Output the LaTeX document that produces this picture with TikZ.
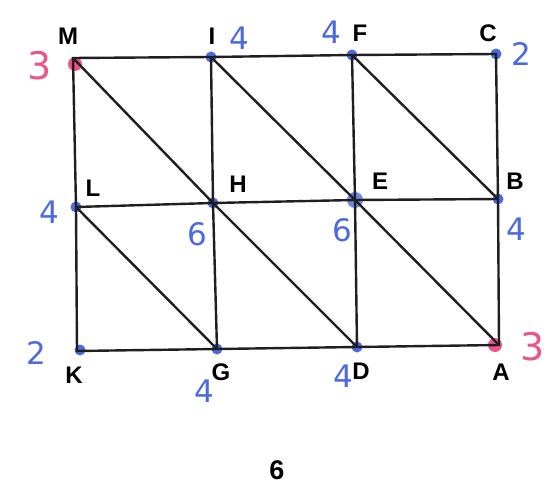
\documentclass[tikz,border=0pt]{standalone}
\usepackage{fontspec}
\setmainfont{Liberation Sans}
\newfontfamily\handfont{DejaVu Sans}
\definecolor{penblue}{RGB}{75,105,225}
\definecolor{penpink}{RGB}{235,85,135}
\begin{document}
\begin{tikzpicture}[x=1pt,y=-1pt,
  edge/.style={line width=2.4pt,black!88},
  lbl/.style={font=\fontsize{24}{26}\selectfont\bfseries,inner sep=0pt},
  bnum/.style={font=\handfont\fontsize{31}{32}\selectfont,text=penblue,inner sep=0pt},
  pnum/.style={font=\handfont\fontsize{38}{40}\selectfont,text=penpink,inner sep=0pt},
  bdot/.style={circle,fill=penblue,inner sep=0pt,minimum size=11pt},
  pdot/.style={circle,fill=penpink,inner sep=0pt,minimum size=14pt}]
\useasboundingbox (0,0) rectangle (551,492);
\fill[white] (0,0) rectangle (551,492);
% grid points
\coordinate (M) at (73,58);
\coordinate (I) at (211,57);
\coordinate (F) at (352,55);
\coordinate (C) at (496,54);
\coordinate (L) at (76,207);
\coordinate (H) at (213,203);
\coordinate (E) at (355,200);
\coordinate (B) at (498,199);
\coordinate (K) at (77,351);
\coordinate (G) at (217,349);
\coordinate (D) at (357,347);
\coordinate (A) at (499,345);
% dots
\node[pdot] (dM) at (75,64) {};
\node[pdot] (dA) at (495,345) {};
\node[bdot] (dI) at (I) {};
\node[bdot] (dF) at (F) {};
\node[bdot] (dC) at (C) {};
\node[bdot] (dL) at (L) {};
\node[bdot] (dH) at (H) {};
\node[bdot,minimum size=16pt,fill=penblue!80] (dE) at (E) {};
\node[bdot] (dB) at (B) {};
\node[bdot] (dK) at (80,350) {};
\node[bdot] (dG) at (G) {};
\node[bdot] (dD) at (D) {};
% edges
\draw[edge] (M) -- (I) -- (F) -- (C) -- (B) -- (A) -- (D) -- (G) -- (K) -- (L) -- cycle;
\draw[edge] (I) -- (H) -- (G);
\draw[edge] (F) -- (E) -- (D);
\draw[edge] (L) -- (H) -- (E) -- (B);
\draw[edge] (M) -- (H) -- (D);
\draw[edge] (I) -- (E) -- (A);
\draw[edge] (F) -- (B);
\draw[edge] (L) -- (G);
% letters
\node[lbl] (tM) at (68,36) {M};
\node[lbl] (tI) at (212,36) {I};
\node[lbl] (tF) at (360,33) {F};
\node[lbl] (tC) at (488,33) {C};
\node[lbl] (tL) at (93,188) {L};
\node[lbl] (tH) at (238,184) {H};
\node[lbl] (tE) at (380,181) {E};
\node[lbl] (tB) at (515,181) {B};
\node[lbl] (tK) at (74,375) {K};
\node[lbl] (tG) at (221,372) {G};
\node[lbl] (tD) at (361,371) {D};
\node[lbl] (tA) at (501,372) {A};
\node[font=\fontsize{27}{30}\selectfont\bfseries,inner sep=0pt] (t6) at (277,470) {6};
% handwritten numbers
\node[pnum] (nM) at (40,66) {3};
\node[pnum] (nA) at (533,347) {3};
\node[bnum] (nI) at (239,38) {4};
\node[bnum] (nF) at (331,32) {4};
\node[bnum] (nC) at (521,54) {2};
\node[bnum] (nL) at (49,212) {4};
\node[bnum] (nH) at (197,234) {6};
\node[bnum] (nE) at (342,230) {6};
\node[bnum] (nB) at (516,229) {4};
\node[bnum] (nK) at (36,353) {2};
\node[bnum] (nG) at (204,391) {4};
\node[bnum] (nD) at (343,376) {4};
\end{tikzpicture}
\end{document}
